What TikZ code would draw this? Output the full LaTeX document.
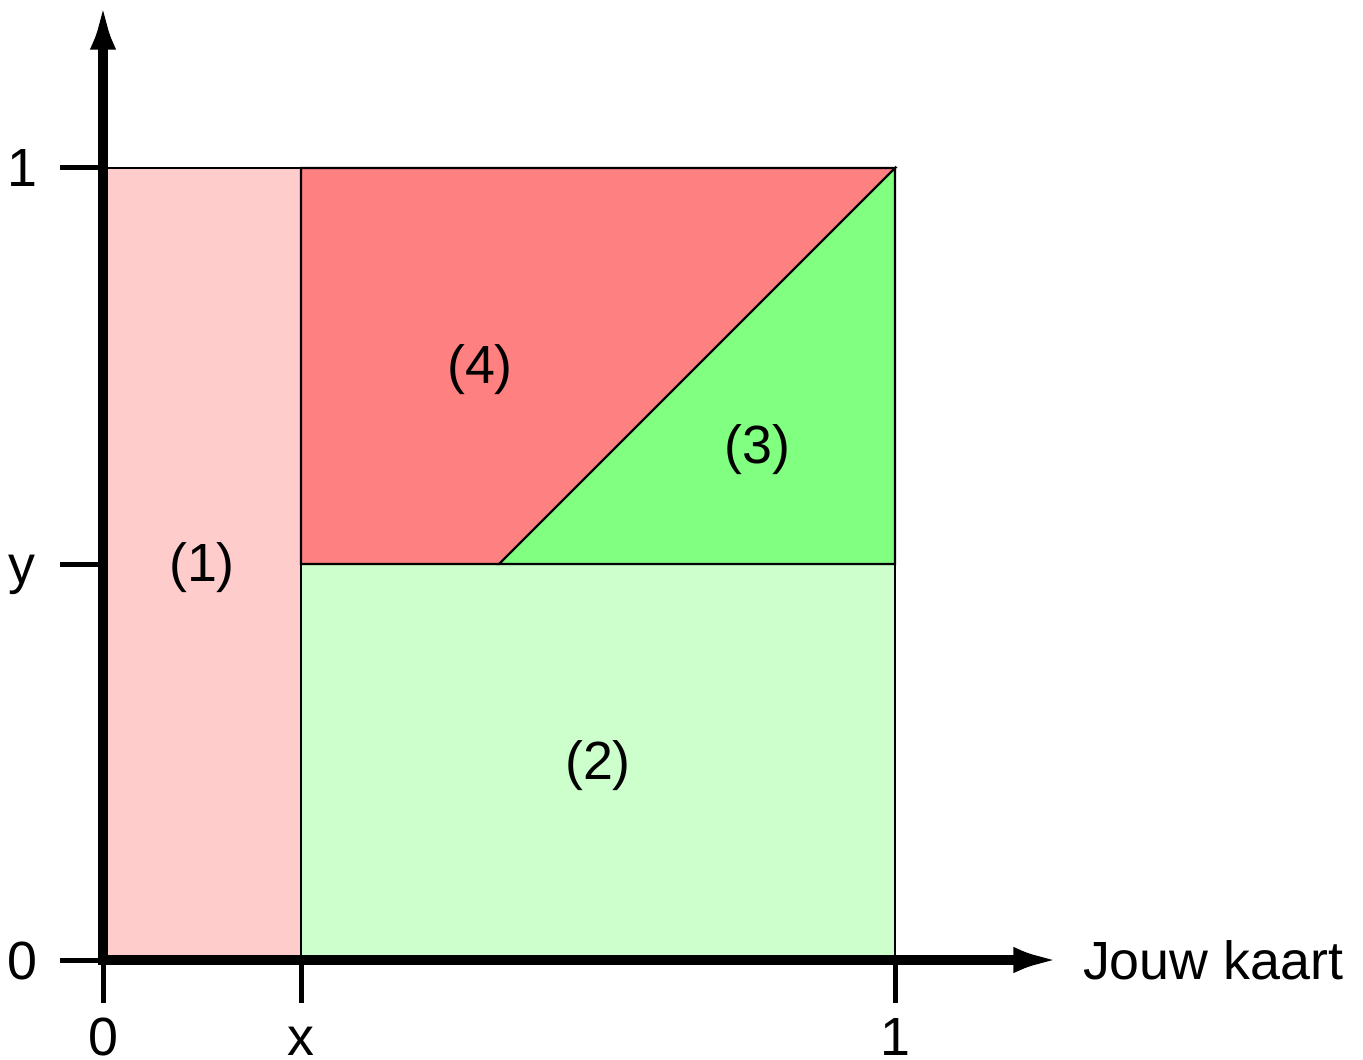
\documentclass[tikz,border=0pt]{standalone}
\usepackage{fontspec}
\setmainfont{Liberation Sans}
\usetikzlibrary{arrows.meta}
\definecolor{paleRed}{HTML}{FFCCCC}
\definecolor{paleGreen}{HTML}{CCFFCC}
\definecolor{midRed}{HTML}{FF8080}
\definecolor{midGreen}{HTML}{80FF80}

\begin{document}
\begin{tikzpicture}[x=7.92cm,y=7.92cm,
axis/.style={line width=1mm,line cap=rect,-{Latex[length=4.8mm,width=2.6mm]}},
tickmark/.style={line width=0.5mm},
region/.style={draw,line width=0.6pt},
lab/.style={font=\fontsize{15.3}{18}\selectfont}]
\useasboundingbox (-1.03cm,-0.99cm) rectangle (12.60cm,9.60cm);
\coordinate (o) at (0,0);
\coordinate (xend) at (1.21,0);
\coordinate (yend) at (0,1.21);
% regions
\filldraw[region,fill=paleRed] (0,0) rectangle (0.25,1);
\filldraw[region,fill=paleGreen] (0.25,0) rectangle (1,0.5);
\filldraw[region,fill=midRed] (0.25,0.5)--(0.25,1)--(1,1)--(0.5,0.5)--cycle;
\filldraw[region,fill=midGreen] (0.5,0.5)--(1,1)--(1,0.5)--cycle;
\node[lab] (r1) at (0.125,0.496) {(1)};
\node[lab] (r2) at (0.625,0.245) {(2)};
\node[lab] (r3) at (0.826,0.644) {(3)};
\node[lab] (r4) at (0.476,0.745) {(4)};
% ticks
\foreach \x/\t/\n in {0/0/a,0.25/x/b,1/1/c}{
  \draw[tickmark] (\x,0)--++(0,-0.43cm);
  \node[lab,anchor=base,yshift=-0.95cm] (bx\n) at (\x,0) {\t};
}
\foreach \y/\t/\n in {0/0/a,0.5/y/b,1/1/c}{
  \draw[tickmark] (0,\y)--++(-0.43cm,0);
  \node[lab,anchor=base,xshift=-0.81cm,yshift=-0.19cm] (ly\n) at (0,\y) {\t};
}
% axes
\draw[axis] (o)--(xend);
\draw[axis] (o)--(yend);
\node[lab,anchor=base west,inner sep=0pt,xshift=0.21cm,yshift=-0.19cm] (xlab) at (xend) {Jouw kaart};
\end{tikzpicture}
\end{document}
